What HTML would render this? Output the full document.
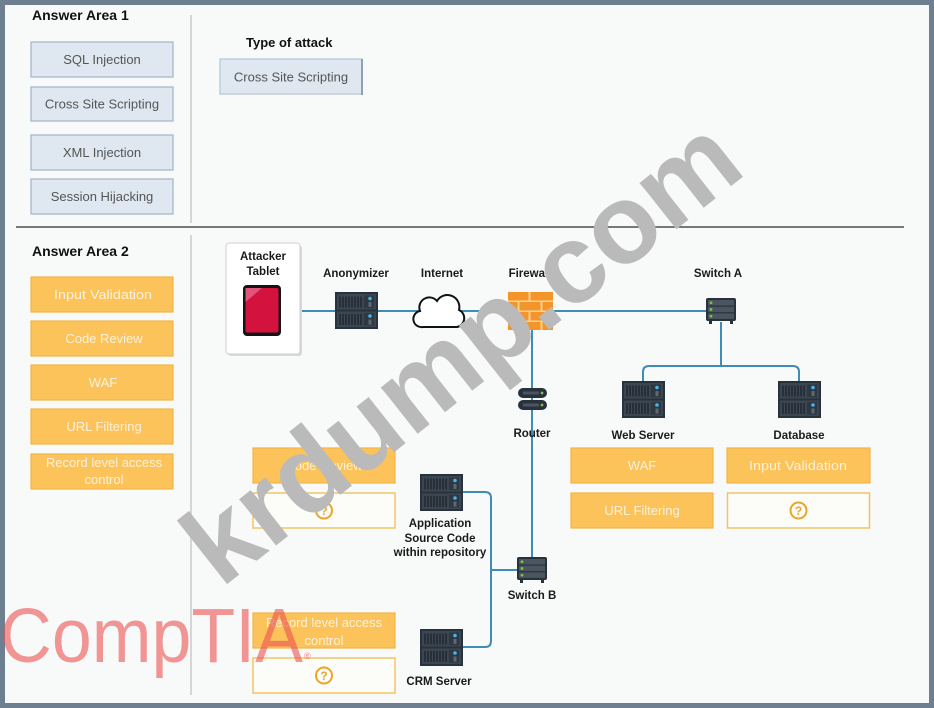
<!DOCTYPE html>
<html><head><meta charset="utf-8"><style>
html,body{margin:0;padding:0;background:#6e7f92;}
svg{display:block;}
</style></head><body>
<svg width="934" height="708" viewBox="0 0 934 708" xmlns="http://www.w3.org/2000/svg" font-family="Liberation Sans, Arial, sans-serif">
<defs>
 <g id="srv">
  <rect x="0" y="0" width="43" height="37" fill="#28323c"/>
  <rect x="2" y="2" width="39" height="15.5" fill="#3b4651"/>
  <rect x="2" y="19.5" width="39" height="15.5" fill="#3b4651"/>
  <path d="M5 4.5v11M8 4.5v11M11 4.5v11M14 4.5v11M17 4.5v11M20 4.5v11M23 4.5v11M26 4.5v11M5 22v11M8 22v11M11 22v11M14 22v11M17 22v11M20 22v11M23 22v11M26 22v11" stroke="#1d252d" stroke-width="1.3"/>
  <rect x="29" y="3.5" width="10" height="12.5" fill="#2e3843"/>
  <rect x="29" y="21" width="10" height="12.5" fill="#2e3843"/>
  <circle cx="35" cy="6.5" r="1.8" fill="#45b4e6"/>
  <circle cx="35" cy="24" r="1.8" fill="#45b4e6"/>
  <rect x="33.5" y="10" width="3" height="5" fill="#5c6873"/>
  <rect x="33.5" y="27.5" width="3" height="5" fill="#5c6873"/>
 </g>
 <g id="sw">
  <rect x="0" y="0" width="30" height="23" rx="2" fill="#28323c"/>
  <rect x="2" y="2" width="26" height="5.5" fill="#4a5560"/>
  <rect x="2" y="8.7" width="26" height="5.5" fill="#4a5560"/>
  <rect x="2" y="15.4" width="26" height="5.5" fill="#4a5560"/>
  <circle cx="5" cy="4.75" r="1.4" fill="#7cc242"/>
  <circle cx="5" cy="11.45" r="1.4" fill="#7cc242"/>
  <circle cx="5" cy="18.15" r="1.4" fill="#7cc242"/>
  <rect x="3" y="23" width="3" height="3" fill="#28323c"/>
  <rect x="24" y="23" width="3" height="3" fill="#28323c"/>
 </g>
 <g id="qbox">
  <rect x="0" y="0" width="142" height="35" fill="#fcfcf8" stroke="#f1c466" stroke-width="1.5"/>
  <circle cx="71" cy="17.5" r="8" fill="none" stroke="#eaa52b" stroke-width="2"/>
  <text x="71" y="22" font-size="12" font-weight="bold" fill="#eaa52b" text-anchor="middle">?</text>
 </g>
</defs>

<!-- background / frame -->
<rect x="0" y="0" width="934" height="708" fill="#6e7f92"/>
<rect x="5" y="5" width="924" height="698" fill="#f8faf9"/>

<!-- dividers -->
<line x1="191" y1="15" x2="191" y2="223" stroke="#c9c9c9" stroke-width="1.5"/>
<line x1="191" y1="235" x2="191" y2="695" stroke="#c9c9c9" stroke-width="1.5"/>
<line x1="16" y1="227" x2="904" y2="227" stroke="#4d4d4d" stroke-width="1.5"/>

<!-- Answer Area 1 -->
<text x="32" y="20" font-size="14" font-weight="bold" fill="#111">Answer Area 1</text>
<g font-size="13" fill="#555" text-anchor="middle">
 <rect x="31" y="42" width="142" height="35" fill="#dfe7f1" stroke="#a9b8cb" stroke-width="1.3"/>
 <text x="102" y="64">SQL Injection</text>
 <rect x="31" y="87" width="142" height="34" fill="#dfe7f1" stroke="#a9b8cb" stroke-width="1.3"/>
 <text x="102" y="108.5">Cross Site Scripting</text>
 <rect x="31" y="135" width="142" height="35" fill="#dfe7f1" stroke="#a9b8cb" stroke-width="1.3"/>
 <text x="102" y="157">XML Injection</text>
 <rect x="31" y="179" width="142" height="35" fill="#dfe7f1" stroke="#a9b8cb" stroke-width="1.3"/>
 <text x="102" y="201">Session Hijacking</text>
 <rect x="220" y="59" width="142" height="35" fill="#dfe7f1" stroke="#b7c4d4" stroke-width="1.2"/>
 <line x1="362" y1="59" x2="362" y2="95" stroke="#8ea0b6" stroke-width="2"/>
 <text x="291" y="81.5">Cross Site Scripting</text>
</g>
<text x="246" y="47" font-size="13" font-weight="bold" fill="#111">Type of attack</text>

<!-- Answer Area 2 -->
<text x="32" y="256" font-size="14" font-weight="bold" fill="#111">Answer Area 2</text>
<g fill="#fcc35b" stroke="#f2b445" stroke-width="1.2">
 <rect x="31" y="277" width="142" height="35"/>
 <rect x="31" y="321" width="142" height="35"/>
 <rect x="31" y="365" width="142" height="35"/>
 <rect x="31" y="409" width="142" height="35"/>
 <rect x="31" y="454" width="142" height="35"/>
 <rect x="253" y="448" width="142" height="35"/>
 <rect x="253" y="613" width="142" height="35"/>
 <rect x="571" y="448" width="142" height="35"/>
 <rect x="727" y="448" width="143" height="35"/>
 <rect x="571" y="493" width="142" height="35"/>
</g>
<g font-size="13" fill="#fdf1da" text-anchor="middle">
 <text x="103" y="299" textLength="98" lengthAdjust="spacingAndGlyphs">Input Validation</text>
 <text x="104" y="343">Code Review</text>
 <text x="103" y="387">WAF</text>
 <text x="104" y="431">URL Filtering</text>
 <text x="104" y="467">Record level access</text>
 <text x="104" y="484">control</text>
 <text x="324" y="470">Code Review</text>
 <text x="324" y="627">Record level access</text>
 <text x="324" y="645">control</text>
 <text x="642" y="470">WAF</text>
 <text x="798" y="470" textLength="98" lengthAdjust="spacingAndGlyphs">Input Validation</text>
 <text x="642" y="515">URL Filtering</text>
</g>
<use href="#qbox" x="253" y="493"/>
<use href="#qbox" x="253" y="658"/>
<use href="#qbox" x="727.5" y="493"/>

<!-- connectors -->
<g fill="none" stroke="#3f8db3" stroke-width="2">
 <line x1="300" y1="311" x2="707" y2="311"/>
 <line x1="532" y1="320" x2="532" y2="558"/>
 <line x1="721" y1="322" x2="721" y2="366"/>
 <path d="M643 382 V372 Q643 366 649 366 H793 Q799 366 799 372 V382"/>
 <path d="M462 492 H485 Q491 492 491 498 V641 Q491 647 485 647 H462"/>
 <line x1="491" y1="570" x2="518" y2="570"/>
</g>

<!-- Attacker tablet -->
<rect x="228" y="245" width="74" height="111" rx="3" fill="#d8d8d8"/>
<rect x="226" y="243" width="74" height="111" rx="3" fill="#ffffff" stroke="#cfcfcf" stroke-width="1"/>
<g font-size="11.5" font-weight="bold" fill="#1a1a1a" text-anchor="middle">
 <text x="263" y="260">Attacker</text>
 <text x="263" y="275">Tablet</text>
</g>
<rect x="243" y="285" width="38" height="51" rx="4" fill="#141414"/>
<rect x="245.5" y="288" width="33" height="44.5" rx="2" fill="#d4123e"/>
<path d="M245.5 288 H262 L245.5 302 Z" fill="#e2557a"/>

<!-- icons -->
<use href="#srv" x="335" y="292"/>
<path d="M423 327 H457 A9 9 0 0 0 459 310 A12 12 0 0 0 437 301 A10 10 0 0 0 420 311 A8 8 0 0 0 423 327 Z" fill="#ffffff" stroke="#111" stroke-width="2"/>
<!-- firewall -->
<g>
 <rect x="508" y="292" width="45" height="38" fill="#fbd18e"/>
 <g fill="#f4952c">
  <rect x="508" y="292" width="20.5" height="8.5"/><rect x="530.5" y="292" width="22.5" height="8.5"/>
  <rect x="508" y="302" width="9.5" height="8.5"/><rect x="519.5" y="302" width="21" height="8.5"/><rect x="542.5" y="302" width="10.5" height="8.5"/>
  <rect x="508" y="312" width="20.5" height="8.5"/><rect x="530.5" y="312" width="22.5" height="8.5"/>
  <rect x="508" y="322" width="9.5" height="8"/><rect x="519.5" y="322" width="21" height="8"/><rect x="542.5" y="322" width="10.5" height="8"/>
 </g>
</g>
<use href="#sw" x="706" y="298"/>
<!-- router -->
<g>
 <rect x="518" y="388" width="29" height="10" rx="5" fill="#28323c"/>
 <rect x="518" y="400" width="29" height="10" rx="5" fill="#28323c"/>
 <rect x="523" y="391.5" width="16" height="3" fill="#4a5560"/>
 <rect x="523" y="403.5" width="16" height="3" fill="#4a5560"/>
 <circle cx="542" cy="393" r="1.4" fill="#7cc242"/>
 <circle cx="542" cy="405" r="1.4" fill="#7cc242"/>
</g>
<use href="#srv" x="622" y="381"/>
<use href="#srv" x="778" y="381"/>
<use href="#srv" x="420" y="474"/>
<use href="#srv" x="420" y="629"/>
<use href="#sw" x="517" y="557"/>

<!-- labels -->
<g font-size="11.5" font-weight="bold" fill="#1a1a1a" text-anchor="middle">
 <text x="356" y="277">Anonymizer</text>
 <text x="442" y="277">Internet</text>
 <text x="530" y="277">Firewall</text>
 <text x="718" y="277">Switch A</text>
 <text x="532" y="437">Router</text>
 <text x="643" y="439">Web Server</text>
 <text x="799" y="439">Database</text>
 <text x="440" y="527">Application</text>
 <text x="440" y="542">Source Code</text>
 <text x="440" y="556">within repository</text>
 <text x="532" y="599">Switch B</text>
 <text x="439" y="685">CRM Server</text>
</g>

<!-- watermark -->
<text transform="translate(221,589) rotate(-38.3)" font-size="112" font-weight="bold" fill="#bababa" font-family="Liberation Sans, Arial, sans-serif">krdump.com</text>

<!-- CompTIA logo -->
<text x="0" y="662" font-size="77" fill="rgb(235,80,80)" fill-opacity="0.6" textLength="303" lengthAdjust="spacingAndGlyphs">CompTIA</text>
<text x="304" y="659" font-size="9" fill="rgb(235,80,80)" fill-opacity="0.7">®</text>
</svg>
</body></html>
